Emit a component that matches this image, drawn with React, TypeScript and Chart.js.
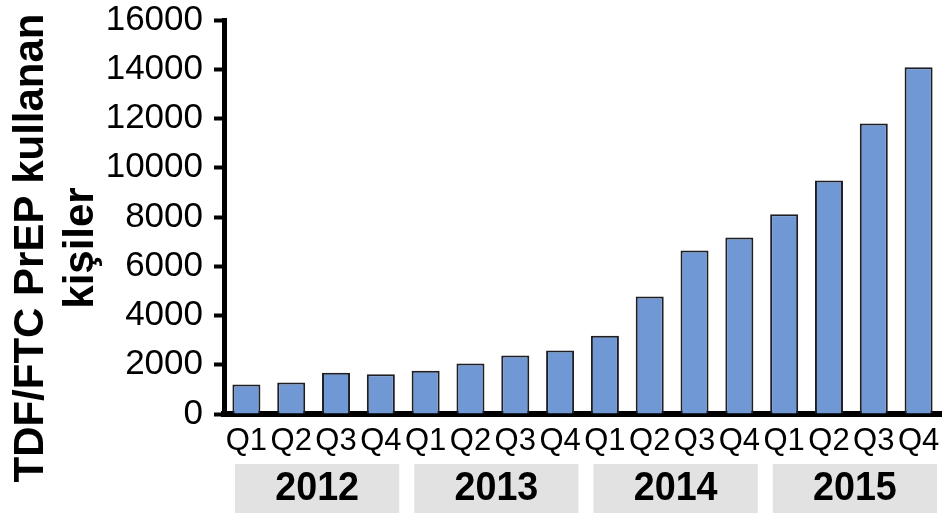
import React, { useEffect, useRef } from "react";
import { Chart, registerables } from "chart.js";

Chart.register(...registerables);

const quarters = ["Q1", "Q2", "Q3", "Q4", "Q1", "Q2", "Q3", "Q4", "Q1", "Q2", "Q3", "Q4", "Q1", "Q2", "Q3", "Q4"];
const years = ["2012", "2013", "2014", "2015"];
const users = [1200, 1280, 1680, 1610, 1760, 2050, 2380, 2580, 3180, 4770, 6640, 7170, 8110, 9480, 11800, 14080];
const yTitleLines = ["TDF/FTC PrEP kullanan", "kişiler"];
const yMin = 0;
const yMax = 16000;
const yStep = 2000;

const FONT = "'Liberation Sans', Arial, Helvetica, sans-serif";

const overlayPlugin = {
  id: "overlay",
  afterDraw(chart: any) {
    const { ctx, scales } = chart;
    const x = scales.x;
    const catW = x.getPixelForValue(1) - x.getPixelForValue(0);
    ctx.save();
    years.forEach((yr, i) => {
      const start = x.getPixelForValue(i * 4) - catW / 2;
      const end = x.getPixelForValue(i * 4 + 3) + catW / 2;
      const x0 = start + 11;
      const x1 = end - 4;
      ctx.fillStyle = "#e2e2e2";
      ctx.fillRect(x0, 464, x1 - x0, 49);
      ctx.save();
      ctx.translate((x0 + x1) / 2, 488);
      ctx.scale(0.92, 1);
      ctx.fillStyle = "#000";
      ctx.font = `bold 41px ${FONT}`;
      ctx.textAlign = "center";
      ctx.textBaseline = "middle";
      ctx.fillText(yr, 0, 1);
      ctx.restore();
    });
    ctx.save();
    ctx.fillStyle = "#000";
    ctx.font = `bold 42px ${FONT}`;
    ctx.textAlign = "center";
    ctx.textBaseline = "alphabetic";
    const cy = 248;
    const baselines = [43, 93];
    yTitleLines.forEach((line, i) => {
      ctx.save();
      ctx.translate(baselines[i], cy);
      ctx.rotate(-Math.PI / 2);
      ctx.fillText(line, 0, 0);
      ctx.restore();
    });
    ctx.restore();
    ctx.restore();
  },
};

export default function App() {
  const ref = useRef<HTMLCanvasElement | null>(null);
  useEffect(() => {
    document.body.style.margin = "0";
    if (!ref.current) return;
    const chart = new Chart(ref.current, {
      type: "bar",
      data: {
        labels: quarters,
        datasets: [
          {
            data: users,
            backgroundColor: "#7098d4",
            borderColor: "#1e1e24",
            borderWidth: 2,
            borderSkipped: "bottom",
            barPercentage: 0.625,
            categoryPercentage: 1,
          },
        ],
      },
      options: {
        animation: false,
        responsive: true,
        maintainAspectRatio: false,
        layout: { padding: { top: 20, right: 1, left: 0, bottom: 0 } },
        plugins: {
          legend: { display: false },
          tooltip: { enabled: false },
          title: { display: false },
        },
        scales: {
          x: {
            offset: true,
            grid: { display: true, drawOnChartArea: false, drawTicks: false },
            border: { display: true, width: 6, color: "#000" },
            ticks: {
              color: "#000",
              font: { family: FONT, size: 31 },
              padding: 9,
              maxRotation: 0,
              autoSkip: false,
            },
            afterFit: (s: any) => {
              s.height = 99;
              s.paddingLeft = 0;
              s.paddingRight = 0;
            },
          },
          y: {
            min: yMin,
            max: yMax,
            grid: {
              display: true,
              drawOnChartArea: false,
              drawTicks: true,
              tickLength: 10,
              tickWidth: 4,
              tickColor: "#000",
            },
            border: { display: true, width: 5, color: "#000" },
            ticks: {
              stepSize: yStep,
              color: "#000",
              font: { family: FONT, size: 35 },
              padding: 11,
              callback: (v: any) => String(v),
            },
            afterFit: (s: any) => {
              s.width = 224;
              s.paddingTop = 0;
              s.paddingBottom = 0;
            },
          },
        },
      },
      plugins: [overlayPlugin],
    });
    return () => chart.destroy();
  }, []);
  return (
    <div style={{ width: 942, height: 513, position: "relative", background: "#fff" }}>
      <canvas ref={ref} />
    </div>
  );
}
